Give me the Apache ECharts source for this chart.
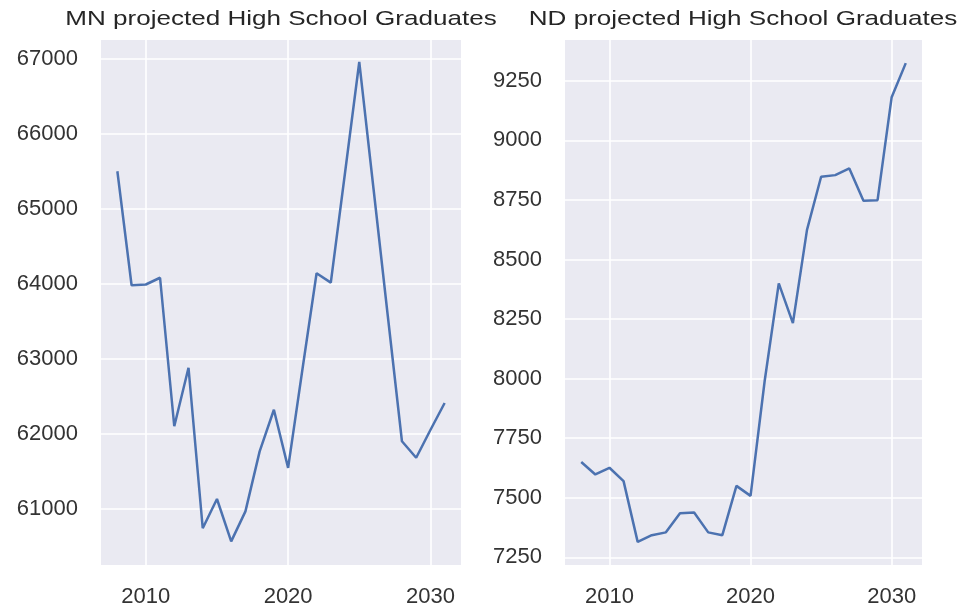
<!DOCTYPE html>
<html>
<head>
<meta charset="utf-8">
<title>Projected High School Graduates</title>
<script src="https://cdn.jsdelivr.net/npm/echarts@6/dist/echarts.min.js"></script>
<style>
  html, body { margin: 0; padding: 0; background: #ffffff; }
  #chart { width: 965px; height: 615px; }
</style>
</head>
<body>
<div id="chart"></div>
<script>
// Graduation years shared by both panels
const years = [2008, 2009, 2010, 2011, 2012, 2013, 2014, 2015, 2016, 2017, 2018, 2019,
               2020, 2021, 2022, 2023, 2024, 2025, 2026, 2027, 2028, 2029, 2030, 2031];

// Minnesota projected high school graduates
const mnGraduates = [65500, 63980, 63990, 64080, 62100, 62880, 60740, 61130, 60565, 60965, 61765, 62320,
                     61545, 62850, 64140, 64015, 65480, 66957, 65270, 63580, 61900, 61680, 62050, 62410];

// North Dakota projected high school graduates
const ndGraduates = [7650, 7598, 7626, 7570, 7315, 7343, 7355, 7435, 7438, 7355, 7343, 7550,
                     7508, 7990, 8400, 8233, 8624, 8847, 8854, 8882, 8746, 8749, 9181, 9324];

// Tick labels
const yearTicks = [2010, 2020, 2030];
const mnTicks = [61000, 62000, 63000, 64000, 65000, 66000, 67000];
const ndTicks = [7250, 7500, 7750, 8000, 8250, 8500, 8750, 9000, 9250];

const titles = ['MN projected High School Graduates', 'ND projected High School Graduates'];

const pairs = arr => years.map((y, i) => [y, arr[i]]);

// Plain numbers, no thousands separators
const plain = v => String(v);

const tickFont = {
  fontFamily: '"Liberation Sans", Arial, sans-serif',
  fontSize: 22,
  color: '#333333',
  formatter: plain
};

function xAxisFor(gridIndex) {
  return {
    type: 'value',
    gridIndex,
    min: 2006.85,
    max: 2032.15,
    axisLine: { show: false },
    axisTick: { show: false, customValues: yearTicks },
    axisLabel: Object.assign({ customValues: yearTicks, margin: 21 }, tickFont),
    splitLine: { show: true, lineStyle: { color: '#ffffff', width: 1.6 } }
  };
}

function yAxisFor(gridIndex, min, max, ticks) {
  return {
    type: 'value',
    gridIndex,
    min,
    max,
    axisLine: { show: false },
    axisTick: { show: false, customValues: ticks },
    axisLabel: Object.assign({ customValues: ticks, margin: 23 }, tickFont),
    splitLine: { show: true, lineStyle: { color: '#ffffff', width: 1.6 } }
  };
}

const chart = echarts.init(document.getElementById('chart'), null, { renderer: 'canvas' });

chart.setOption({
  animation: false,
  backgroundColor: '#ffffff',
  graphic: [
    {
      type: 'text', x: 281, y: 19, scaleX: 1.24,
      style: {
        text: titles[0], textAlign: 'center', textVerticalAlign: 'middle',
        font: '21px "Liberation Sans", Arial, sans-serif', fill: '#262626'
      }
    },
    {
      type: 'text', x: 743, y: 19, scaleX: 1.24,
      style: {
        text: titles[1], textAlign: 'center', textVerticalAlign: 'middle',
        font: '21px "Liberation Sans", Arial, sans-serif', fill: '#262626'
      }
    }
  ],
  grid: [
    { left: 101, right: 504, top: 40, bottom: 50, show: true, backgroundColor: '#EAEAF2', borderWidth: 0 },
    { left: 565, right: 43, top: 40, bottom: 50, show: true, backgroundColor: '#EAEAF2', borderWidth: 0 }
  ],
  xAxis: [xAxisFor(0), xAxisFor(1)],
  yAxis: [
    yAxisFor(0, 60250, 67250, mnTicks),
    yAxisFor(1, 7218, 9421, ndTicks)
  ],
  series: [
    {
      name: 'MN', type: 'line', xAxisIndex: 0, yAxisIndex: 0,
      data: pairs(mnGraduates), showSymbol: false,
      lineStyle: { color: '#4C72B0', width: 2.5 }, itemStyle: { color: '#4C72B0' }
    },
    {
      name: 'ND', type: 'line', xAxisIndex: 1, yAxisIndex: 1,
      data: pairs(ndGraduates), showSymbol: false,
      lineStyle: { color: '#4C72B0', width: 2.5 }, itemStyle: { color: '#4C72B0' }
    }
  ]
});
</script>
</body>
</html>
